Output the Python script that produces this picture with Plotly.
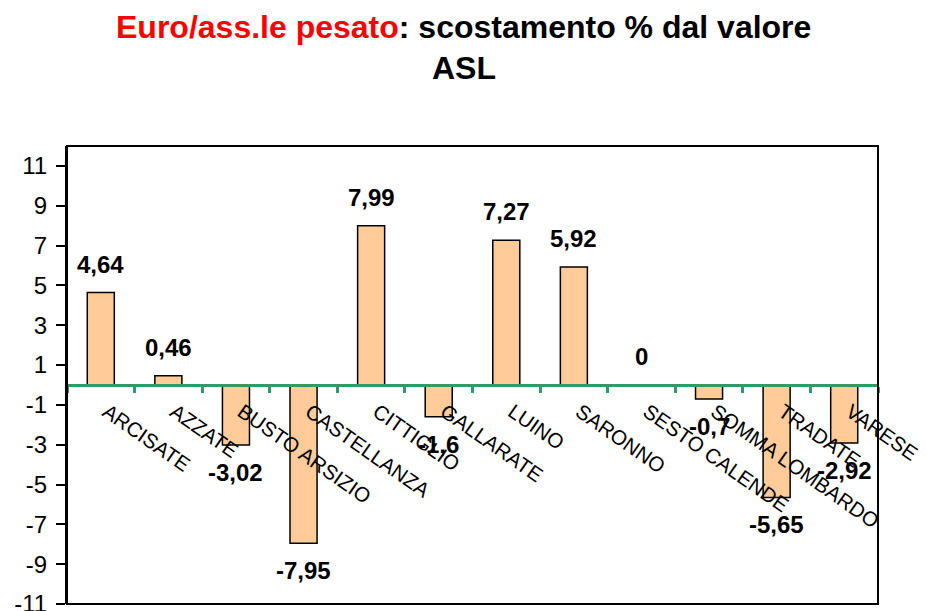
import plotly.graph_objects as go

categories = ["ARCISATE", "AZZATE", "BUSTO ARSIZIO", "CASTELLANZA", "CITTIGLIO",
              "GALLARATE", "LUINO", "SARONNO", "SESTO CALENDE", "SOMMA LOMBARDO",
              "TRADATE", "VARESE"]
values = [4.64, 0.46, -3.02, -7.95, 7.99, -1.6, 7.27, 5.92, 0, -0.7, -5.65, -2.92]
y_ticks = list(range(-11, 12, 2))
title_red = "Euro/ass.le pesato"
title_black = ": scostamento % dal valore"
title_line2 = "ASL"

FONT = "Liberation Sans, Arial, sans-serif"
GREEN = "#339966"
PLOT_H = 603 - 138 - 7
PLOT_W = 919 - 59 - 49
TITLE_X = (463.5 - 67) / PLOT_W

def fmt(v):
    return f"{v:g}".replace(".", ",")

fig = go.Figure()
fig.add_trace(go.Bar(
    x=categories, y=values,
    marker=dict(color="#FFCC99", line=dict(color="black", width=1.5)),
    showlegend=False, hoverinfo="skip",
))

annotations = []
for c, v in zip(categories, values):
    annotations.append(dict(
        x=c, y=v, xref="x", yref="y", text=f"<b>{fmt(v)}</b>", showarrow=False,
        yanchor="bottom" if v >= 0 else "top",
        yshift=13 if v >= 0 else -12,
        font=dict(family=FONT, size=24, color="black"),
    ))

annotations.append(dict(
    x=TITLE_X, xref="paper", y=(603 - 7 - 19) / PLOT_H, yref="paper",
    xanchor="center", yanchor="middle", showarrow=False,
    text=f"<b><span style='color:#FF0000'>{title_red}</span>{title_black}</b>",
    font=dict(family=FONT, size=32, color="black"),
))
annotations.append(dict(
    x=TITLE_X, xref="paper", y=(603 - 7 - 60) / PLOT_H, yref="paper",
    xanchor="center", yanchor="middle", showarrow=False,
    text=f"<b>{title_line2}</b>",
    font=dict(family=FONT, size=32, color="black"),
))

fig.update_layout(
    width=919, height=603,
    margin=dict(l=59, r=49, t=138, b=7, autoexpand=False),
    paper_bgcolor="white", plot_bgcolor="white",
    bargap=0.6,
    font=dict(family=FONT, color="black"),
    xaxis=dict(
        type="category", anchor="free", position=11 / 23, automargin=False,
        showline=True, linecolor=GREEN, linewidth=3,
        ticks="outside", tickson="boundaries", ticklen=6, tickwidth=3, tickcolor=GREEN,
        tickangle=35, tickfont=dict(family=FONT, size=20.5, color="black"),
        ticklabelshift=6, ticklabelstandoff=5,
        showgrid=False, zeroline=False,
    ),
    yaxis=dict(
        range=[-11, 12], tickvals=y_ticks, ticktext=[str(t) for t in y_ticks],
        automargin=False,
        showline=True, linecolor="black", linewidth=2,
        ticks="outside", ticklen=9, tickwidth=2, tickcolor="black",
        tickfont=dict(family=FONT, size=24, color="black"),
        ticklabelstandoff=4, ticklabeloverflow="allow",
        showgrid=False, zeroline=False,
    ),
    annotations=annotations,
    shapes=[dict(type="rect", xref="paper", yref="paper", x0=0, x1=1, y0=0, y1=1,
                 line=dict(color="black", width=2), layer="above")],
)

fig.write_html("out.html")
